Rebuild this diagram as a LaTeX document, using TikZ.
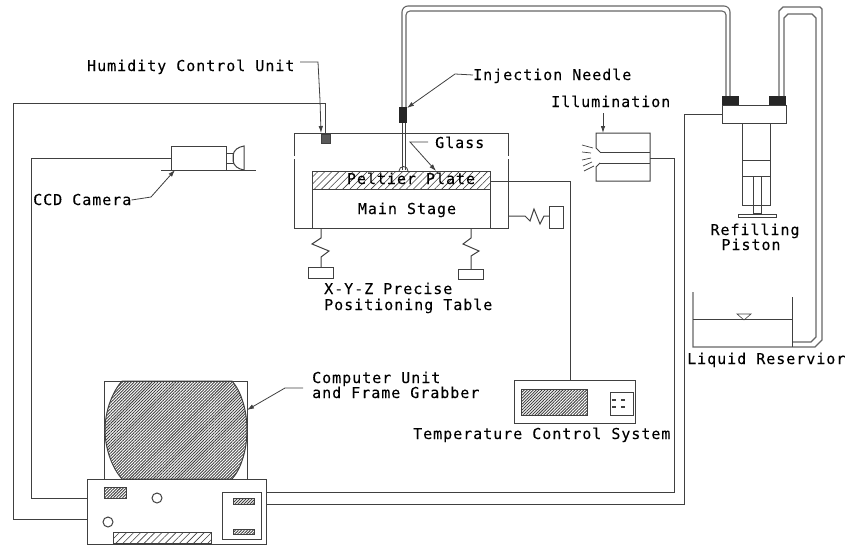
\documentclass[tikz,border=0pt]{standalone}
\usepackage{fontspec}
\usepackage{tikz}
\usetikzlibrary{calc,arrows.meta,patterns.meta}
\newfontfamily\labelfont[LetterSpace=6.5,FakeBold=0.15]{DejaVu Sans Mono}
\definecolor{wire}{gray}{0.25}
\tikzset{
  lbl/.style={font=\labelfont\fontsize{15}{17}\selectfont, inner sep=0pt, anchor=west, text=black, text height=10pt, text depth=0pt},
  wired/.style={draw=wire, line width=1pt},
  pipe/.style={draw=wire!80, line width=1.1pt},
  lead/.style={draw=wire, line width=.8pt, -{Latex[length=7pt,width=4.5pt]}},
  hatchwide/.style={pattern={Lines[angle=45,distance=5pt,line width=.6pt]}, pattern color=wire},
  hatchfine/.style={pattern={Lines[angle=45,distance=2.1pt,line width=.9pt]}, pattern color=wire}
}
\begin{document}
\begin{tikzpicture}[x=1pt,y=-1pt]
\useasboundingbox (0,0) rectangle (846,546);

% chamber
\draw [wired] (294,156) -- (294,133) -- (508,133) -- (508,156);
\draw [wired] (294,159) -- (294,228) -- (508,228) -- (508,159);
\filldraw [wired, fill=black!65] (321,134) rectangle (330,143);
\coordinate (humid) at (325,134);
\draw [wired, hatchwide] (312,171) rectangle (490,189);
\draw [wired] (312,189) rectangle (490,228);
\coordinate (pelt) at (490,181);
\node (peltier) [lbl, anchor=center] at (411,179) {Peltier Plate};
\node (stage) [lbl, anchor=center] at (407,209) {Main Stage};

% springs under the stage
\coordinate (s1) at (321,228);
\coordinate (s2) at (471,228);
\draw [wired] (s1) -- ++(0,10) -- ++(-9,6) -- ++(17,7) -- ++(-8,6) -- (321,267);
\draw [wired] (s2) -- ++(0,10) -- ++(-8,6) -- ++(16,7) -- ++(-8,5) -- (471,269);
\draw [wired] (308,267) rectangle (333,278);
\draw [wired] (458,269) rectangle (483,279);
\node (xyz) [lbl] at (324,289) {X-Y-Z Precise};
\node (table) [lbl] at (324,305) {Positioning Table};

% side spring
\coordinate (s3) at (508,216);
\draw [wired] (s3) -- (525,216) -- (530,221) -- (534,209) -- (540,224) -- (544,216) -- (549,216);
\draw [wired] (549,206) rectangle (563,228);

% needle and pipe to the piston head
\draw [pipe, rounded corners=6pt] (402,107) -- (402,6) -- (730,6) -- (730,96);
\draw [pipe, rounded corners=4pt] (406,107) -- (406,11) -- (726,11) -- (726,96);
\fill [black!85] (399,107) rectangle (407,123);
\draw [wired, line width=.8pt] (402,123) -- (402,170) (405,123) -- (405,170);
\draw [wired, line width=.8pt] (399,171) arc (180:0:4.5pt);
\fill [black!85] (722,96) rectangle (739,105);
\fill [black!85] (769,96) rectangle (786,105);
\draw [wired] (722,105) rectangle (786,123);
\coordinate (head) at (722,114);

% refilling piston
\draw [wired] (742,123) rectangle (770,205);
\draw [wired] (742,160) -- (770,160) (742,176) -- (770,176);
\draw [wired] (753,176) rectangle (761,213);
\draw [wired] (738,214) rectangle (776,217);
\node (refil) [lbl, anchor=center] at (755,230) {Refilling};
\node (piston) [lbl, anchor=center] at (751,245) {Piston};

% reservoir and its return pipe
\draw [pipe] (779,96) -- (779,11) -- ++(4,-4) -- (820,7) -- ++(2,2) -- (822,340) -- (815,347) -- (693,347) -- (693,292);
\draw [pipe] (784,96) -- (784,18) -- ++(4,-4) -- (812,14) -- ++(4,4) -- (816,337) -- (811,342) -- (792,342);
\draw [wired] (792,297) -- (792,347);
\draw [wired] (693,319) -- (792,319);
\draw [wired, line width=.6pt] (737,314) -- (751,314) -- (744,320) -- cycle;
\node (liquid) [lbl] at (687,359) {Liquid Reservior};

% illumination
\draw [wired] (600,152) -- (650,152) (600,163) -- (650,163);
\draw [wired] (600,152) -- (596,148) -- (596,133) -- (650,133) -- (650,181) -- (596,181) -- (596,167) -- (600,163);
\coordinate (lamp) at (650,158);
\draw [wired, line width=.7pt] (593,148) -- (582,145) (591,153) -- (582,152) (591,158) -- (582,160) (592,162) -- (583,166) (594,166) -- (584,171);
\node (illum) [lbl] at (551,102) {Illumination};
\coordinate (illumtop) at (603,113);
\draw [lead] (illumtop) -- (603,133);

% camera
\draw [wired] (171,146) rectangle (226,170);
\draw [wired] (161,170) -- (256,170);
\draw [wired] (226,153) -- (233,153) -- (233,163) -- (226,163);
\draw [wired] (244,170) -- (244,146) .. controls (238,147) and (234,150) .. (233,155) -- (233,161) .. controls (234,166) and (238,169) .. (244,170);
\coordinate (cam) at (171,158);

% computer
\draw [wired] (104,479) -- (104,381) -- (247,381) -- (247,479);
\filldraw [wired, hatchfine] (122,381) -- (232,381) .. controls (241,391) and (247,410) .. (247,430) .. controls (247,450) and (241,469) .. (232,479) -- (122,479) .. controls (113,469) and (105,450) .. (105,430) .. controls (105,410) and (113,391) .. (122,381);
\draw [wired, fill=white] (87,479) rectangle (266,544);
\draw [wired, hatchfine] (104,487) rectangle (126,498);
\draw [wired] (157,498) circle (5pt);
\draw [wired] (108,522) circle (5pt);
\draw [wired, hatchwide] (113,532) rectangle (211,543);
\draw [wired] (222,492) rectangle (261,539);
\draw [wired, hatchfine] (233,498) rectangle (254,504);
\draw [wired, hatchfine] (233,529) rectangle (254,534);
\coordinate (pc1) at (87,498);
\coordinate (pc2) at (87,519);
\coordinate (pc3) at (266,492);
\coordinate (pc4) at (266,504);
\node (comp) [lbl] at (312,378) {Computer Unit};
\node (grab) [lbl] at (312,393) {and Frame Grabber};

% temperature control
\draw [wired] (514,380) rectangle (635,423);
\draw [wired, hatchfine] (521,389) rectangle (587,415);
\draw [wired] (610,392) rectangle (633,415);
\foreach \px in {614,623} \foreach \py in {400,407} \fill [wire] (\px-2,\py-1) rectangle (\px+2,\py+1);
\coordinate (temp) at (570,380);
\node (templbl) [lbl] at (413,434) {Temperature Control System};

% wires
\draw [wired] (pc2) -- (13,519) -- (13,103) -- (325,103) -- (humid);
\draw [wired] (pc1) -- (31,498) -- (31,158) -- (cam);
\draw [wired] (pelt) -- (570,181) -- (temp);
\draw [wired] (lamp) -- (674,158) -- (674,492) -- (pc3);
\draw [wired] (head) -- (684,114) -- (684,504) -- (pc4);

% labels with leaders
\node (humlbl) [lbl] at (87,66) {Humidity Control Unit};
\node (needle) [lbl] at (473,75) {Injection Needle};
\node (glass) [lbl] at (435,143) {Glass};
\node (ccd) [lbl] at (33,200) {CCD Camera};
\coordinate (humlead) at (300,62);
\coordinate (glasslead) at (428,142);
\coordinate (complead) at (303,388);
\draw [lead] (humlead) -- (318,62) -- (320,100) -- (321,133);
\draw [lead] (needle.west) -- (455,74) -- (407,108);
\draw [lead] (glasslead) -- (410,142) -- (436,171);
\draw [lead] (ccd.east) -- (151,197) -- (175,170);
\draw [lead] (complead) -- (285,388) -- (247,410);
\end{tikzpicture}
\end{document}
